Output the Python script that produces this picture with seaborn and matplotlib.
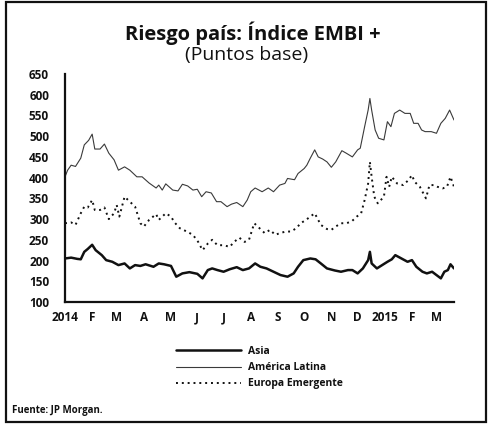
import numpy as np
import pandas as pd
import matplotlib
matplotlib.use("Agg")
import matplotlib.pyplot as plt
from matplotlib.patches import Rectangle
import seaborn as sns

# ---------------- data ----------------
asia_dates = ["2014-01-01","2014-01-08","2014-01-15","2014-01-19","2014-01-23","2014-01-27","2014-02-01",
    "2014-02-05","2014-02-12","2014-02-17","2014-02-24","2014-03-03","2014-03-10","2014-03-16","2014-03-22",
    "2014-03-28","2014-04-03","2014-04-12","2014-04-18","2014-04-24","2014-05-02","2014-05-08","2014-05-15",
    "2014-05-23","2014-06-01","2014-06-07","2014-06-13","2014-06-18","2014-06-24","2014-07-01","2014-07-08",
    "2014-07-16","2014-07-23","2014-07-30","2014-08-06","2014-08-12","2014-08-19","2014-08-27","2014-09-04",
    "2014-09-12","2014-09-19","2014-09-24","2014-09-30","2014-10-08","2014-10-14","2014-10-20","2014-10-27",
    "2014-11-05","2014-11-12","2014-11-20","2014-11-25","2014-12-01","2014-12-07","2014-12-13","2014-12-15",
    "2014-12-17","2014-12-23","2014-12-29","2015-01-04","2015-01-09","2015-01-13","2015-01-20","2015-01-27",
    "2015-02-01","2015-02-06","2015-02-13","2015-02-18","2015-02-24","2015-03-01","2015-03-06","2015-03-10",
    "2015-03-14","2015-03-17","2015-03-21"]
asia_values = [205,207,204,203,221,228,238,
    225,213,201,197,189,193,181,189,
    187,191,185,193,191,187,161,169,
    172,168,157,177,181,177,173,179,
    184,177,181,193,185,181,173,165,
    161,169,185,201,205,203,193,181,
    176,173,177,177,169,181,201,221,
    193,181,189,197,203,213,205,197,
    201,185,173,169,173,165,157,173,
    177,191,181]

latam_dates = ["2014-01-01","2014-01-04","2014-01-08","2014-01-13","2014-01-19","2014-01-23","2014-01-28",
    "2014-02-01","2014-02-04","2014-02-10","2014-02-15","2014-02-20","2014-02-26","2014-03-03","2014-03-10",
    "2014-03-16","2014-03-24","2014-03-30","2014-04-07","2014-04-15","2014-04-18","2014-04-22","2014-04-26",
    "2014-05-04","2014-05-10","2014-05-15","2014-05-21","2014-05-27","2014-06-01","2014-06-06","2014-06-11",
    "2014-06-17","2014-06-23","2014-06-28","2014-07-05","2014-07-10","2014-07-16","2014-07-23","2014-07-28",
    "2014-08-01","2014-08-06","2014-08-14","2014-08-21","2014-08-27","2014-09-03","2014-09-09","2014-09-12",
    "2014-09-20","2014-09-24","2014-10-01","2014-10-04","2014-10-08","2014-10-13","2014-10-17","2014-10-22",
    "2014-10-27","2014-11-01","2014-11-06","2014-11-13","2014-11-18","2014-11-25","2014-12-01","2014-12-04",
    "2014-12-09","2014-12-13","2014-12-15","2014-12-17","2014-12-21","2014-12-25","2014-12-31","2015-01-04",
    "2015-01-08","2015-01-12","2015-01-18","2015-01-24","2015-01-30","2015-02-03","2015-02-08","2015-02-12",
    "2015-02-16","2015-02-23","2015-03-01","2015-03-06","2015-03-11","2015-03-16","2015-03-21"]
latam_values = [402,418,430,427,447,479,490,
    505,469,469,481,459,443,418,426,
    418,402,402,387,375,382,370,385,
    370,368,384,380,370,372,354,366,
    363,342,342,330,336,340,330,346,
    366,375,366,375,366,382,386,398,
    395,410,422,430,447,467,450,445,
    438,425,438,465,459,450,467,471,
    523,563,591,563,515,495,491,535,
    523,555,563,555,555,531,531,515,
    511,511,507,531,543,563,539]

europe_dates = ["2014-01-01","2014-01-08","2014-01-13","2014-01-19","2014-01-23","2014-01-27","2014-02-01",
    "2014-02-04","2014-02-10","2014-02-15","2014-02-20","2014-02-26","2014-03-01","2014-03-04","2014-03-10",
    "2014-03-16","2014-03-22","2014-03-28","2014-04-01","2014-04-07","2014-04-15","2014-04-18","2014-04-26",
    "2014-05-02","2014-05-06","2014-05-12","2014-05-20","2014-05-27","2014-06-02","2014-06-07","2014-06-13",
    "2014-06-18","2014-06-24","2014-07-01","2014-07-08","2014-07-13","2014-07-19","2014-07-25","2014-07-30",
    "2014-08-05","2014-08-11","2014-08-17","2014-08-23","2014-08-29","2014-09-03","2014-09-10","2014-09-16",
    "2014-09-22","2014-09-27","2014-10-03","2014-10-08","2014-10-13","2014-10-20","2014-10-27","2014-11-01",
    "2014-11-06","2014-11-12","2014-11-18","2014-11-24","2014-11-30","2014-12-05","2014-12-09","2014-12-13",
    "2014-12-15","2014-12-17","2014-12-20","2014-12-24","2014-12-31","2015-01-03","2015-01-06","2015-01-09",
    "2015-01-15","2015-01-22","2015-01-28","2015-02-01","2015-02-04","2015-02-10","2015-02-13","2015-02-17",
    "2015-02-21","2015-02-26","2015-03-02","2015-03-08","2015-03-13","2015-03-17","2015-03-21"]
europe_values = [290,292,286,314,330,328,346,
    322,322,328,300,314,334,306,354,
    342,330,290,282,298,312,298,314,
    306,292,278,270,262,245,225,241,
    250,237,237,233,245,255,245,250,
    290,278,266,274,262,266,270,270,
    278,290,298,306,314,286,276,274,
    282,290,290,294,306,314,346,386,
    438,402,354,338,354,402,378,402,
    386,382,394,406,390,378,366,350,
    382,382,378,374,378,402,378]

series_names = ["Asia", "América Latina", "Europa Emergente"]
tick_dates = ["2014-01-01","2014-02-01","2014-03-01","2014-04-01","2014-05-01","2014-06-01","2014-07-01",
    "2014-08-01","2014-09-01","2014-10-01","2014-11-01","2014-12-01","2015-01-01","2015-02-01","2015-03-01"]
tick_labels = ["2014","F","M","A","M","J","J","A","S","O","N","D","2015","F","M"]
y_ticks = [100,150,200,250,300,350,400,450,500,550,600,650]

# ---------------- styling ----------------
sns.set_style("white")
plt.rcParams["font.family"] = ["Open Sans", "DejaVu Sans"]

fig = plt.figure(figsize=(4.9, 4.25), dpi=100)
ax = fig.add_axes([65/490, 1-302/425, (454-65)/490, (302-74)/425])

styles = [
    dict(color="#111111", linewidth=1.8, linestyle="-"),
    dict(color="#3a3a3a", linewidth=0.8, linestyle="-"),
    dict(color="#111111", linewidth=1.4, linestyle=(0, (1, 2))),
]
for name, d, v, st in zip(series_names, [asia_dates, latam_dates, europe_dates],
                          [asia_values, latam_values, europe_values], styles):
    df = pd.DataFrame({"fecha": pd.to_datetime(d), "valor": v})
    sns.lineplot(data=df, x="fecha", y="valor", ax=ax, label=name, **st)

ax.set_xlim(pd.Timestamp("2014-01-01"), pd.Timestamp("2015-03-21"))
ax.set_ylim(100, 650)
ax.set_yticks(y_ticks)
ax.set_xticks(pd.to_datetime(tick_dates))
ax.set_xticklabels(tick_labels)
ax.set_xlabel("")
ax.set_ylabel("")
for s in ["top", "right"]:
    ax.spines[s].set_visible(False)
for s in ["left", "bottom"]:
    ax.spines[s].set_linewidth(1.6)
    ax.spines[s].set_color("#111111")
ax.tick_params(axis="x", direction="inout", length=7, width=1.2, pad=3,
               labelsize=8.5, colors="#111111")
ax.tick_params(axis="y", direction="in", length=3, width=1.0, pad=11.5,
               labelsize=8.5, colors="#111111")
for lab in ax.get_xticklabels() + ax.get_yticklabels():
    lab.set_fontweight("bold")
ax.get_legend().remove()

# titles
fig.text(252.5/490, 1-33.5/425, "Riesgo país: Índice EMBI +", ha="center", va="center",
         fontsize=14.5, fontweight="bold", color="#111111")
fig.text(247/490, 1-55/425, "(Puntos base)", ha="center", va="center",
         fontsize=14, color="#111111")

# legend
handles, labels = ax.get_legend_handles_labels()
leg = fig.legend(handles, labels, loc="upper left", bbox_to_anchor=(176/490, 1-346/425),
                 frameon=False, handlelength=6.2, handletextpad=0.7,
                 labelspacing=0.5, borderpad=0, borderaxespad=0,
                 prop={"size": 7.5, "weight": "bold"})
for t in leg.get_texts():
    t.set_color("#111111")

# source
fig.text(12/490, 1-410/425, "Fuente: JP Morgan.", ha="left", va="center",
         fontsize=7, fontweight="bold", color="#111111")

# frame
fig.patches.append(Rectangle((6/490, 1-422/425), (486-6)/490, (422-2)/425,
                             transform=fig.transFigure, fill=False,
                             edgecolor="#111111", linewidth=1.6))

fig.savefig("out.png", dpi=100)
